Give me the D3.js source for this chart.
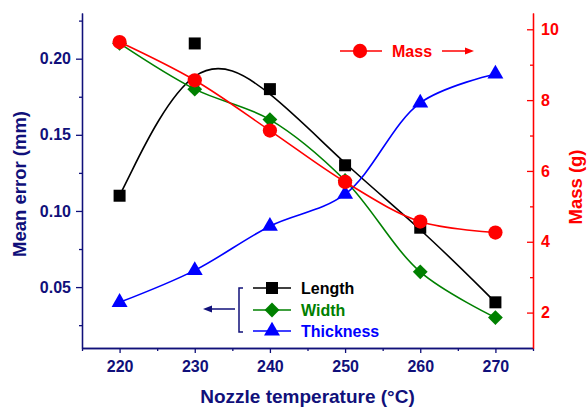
<!DOCTYPE html>
<html>
<head>
<meta charset="utf-8">
<script src="https://cdn.jsdelivr.net/npm/d3@7"></script>
<style>
  body { margin: 0; background: #fff; }
  svg { font-family: "Liberation Sans", Arial, sans-serif; font-weight: bold; }
</style>
</head>
<body>
<svg width="588" height="408"></svg>
<script>
// DATA
const temps = [220, 230, 240, 250, 260, 270];
const lengthErr = [0.11, 0.21, 0.18, 0.13, 0.089, 0.04];
const widthErr = [0.21, 0.18, 0.16, 0.12, 0.06, 0.03];
const thickErr = [0.04, 0.061, 0.09, 0.111, 0.171, 0.19];
const mass = [9.64, 8.56, 7.14, 5.69, 4.57, 4.26];

const xTicks = [220, 230, 240, 250, 260, 270];
const yLTicks = [0.05, 0.10, 0.15, 0.20];
const yRTicks = [2, 4, 6, 8, 10];

const navy = '#10107a';

const svg = d3.select('svg');
const padL = 82, padR = 533, padT = 13, padB = 348;

const xScale = d3.scaleLinear().domain([215, 275]).range([padL, padR]);
const yL = d3.scaleLinear().domain([0.01, 0.23]).range([padB, padT]);
const yR = d3.scaleLinear().domain([1, 10.46]).range([padB, padT]);

// axes
const styleAxis = (g, color) => {
    g.selectAll('path, line').attr('stroke', color).attr('stroke-width', 1.3);
    g.selectAll('text').attr('fill', color).attr('font-size', 16).attr('font-family', null);
};

// bottom
svg.append('g').attr('transform', `translate(0,${padB})`)
    .call(d3.axisBottom(xScale).tickValues([215, 225, 235, 245, 255, 265, 275]).tickSize(3).tickSizeOuter(0).tickFormat(''))
    .call(g => styleAxis(g, navy));
svg.append('g').attr('transform', `translate(0,${padB})`)
    .call(d3.axisBottom(xScale).tickValues(xTicks).tickSize(5).tickPadding(8).tickSizeOuter(0))
    .call(g => styleAxis(g, navy));

// left
svg.append('g').attr('transform', `translate(${padL},0)`)
    .call(d3.axisLeft(yL).tickValues([0.025, 0.075, 0.125, 0.175, 0.225]).tickSize(3).tickSizeOuter(0).tickFormat(''))
    .call(g => styleAxis(g, navy));
svg.append('g').attr('transform', `translate(${padL},0)`)
    .call(d3.axisLeft(yL).tickValues(yLTicks).tickSize(6).tickPadding(5).tickSizeOuter(0).tickFormat(d3.format('.2f')))
    .call(g => styleAxis(g, navy));

// right (ticks inward)
svg.append('g').attr('transform', `translate(${padR},0)`)
    .call(d3.axisRight(yR).tickValues([3, 5, 7, 9]).tickSize(-3).tickSizeOuter(0).tickFormat(''))
    .call(g => styleAxis(g, '#ff0000'));
svg.append('g').attr('transform', `translate(${padR},0)`)
    .call(d3.axisRight(yR).tickValues(yRTicks).tickSize(-6).tickPadding(8).tickSizeOuter(0))
    .call(g => styleAxis(g, '#ff0000'));

// axis titles
svg.append('text').attr('x', (padL + padR) / 2).attr('y', 403)
    .attr('text-anchor', 'middle').attr('font-size', 19).attr('fill', navy)
    .text('Nozzle temperature (°C)');
svg.append('text').attr('transform', 'translate(26,184) rotate(-90)')
    .attr('text-anchor', 'middle').attr('font-size', 18.5).attr('fill', navy)
    .text('Mean error (mm)');
svg.append('text').attr('transform', 'translate(582,187) rotate(-90)')
    .attr('text-anchor', 'middle').attr('font-size', 18.5).attr('fill', '#ff0000')
    .text('Mass (g)');

// markers
const sym = {
    square: d3.symbol().type(d3.symbolSquare).size(144),
    diamond: d3.symbol().type(d3.symbolSquare).size(110),
    triangle: d3.symbol().type(d3.symbolTriangle).size(110),
    circle: d3.symbol().type(d3.symbolCircle).size(160)
};

const series = [
    {vals: lengthErr, y: yL, color: '#000000', curve: d3.curveBasis, shape: 'square', rot: 0},
    {vals: widthErr, y: yL, color: '#008000', curve: d3.curveCatmullRom, shape: 'diamond', rot: 45},
    {vals: thickErr, y: yL, color: '#0000ff', curve: d3.curveCatmullRom, shape: 'triangle', rot: 0},
    {vals: mass, y: yR, color: '#ff0000', curve: d3.curveCatmullRom, shape: 'circle', rot: 0}
];

series.forEach(s => {
    const pts = temps.map((t, i) => [t, s.vals[i]]);
    const line = d3.line().x(d => xScale(d[0])).y(d => s.y(d[1])).curve(s.curve);
    svg.append('path').attr('d', line(pts))
        .attr('fill', 'none').attr('stroke', s.color).attr('stroke-width', 1.6);
    svg.append('g').selectAll('path')
        .data(pts).enter().append('path')
        .attr('d', sym[s.shape]())
        .attr('transform', d => `translate(${xScale(d[0])},${s.y(d[1])}) rotate(${s.rot})`)
        .attr('fill', s.color);
});

// legend (left axis group)
const legItems = [
    {name: 'Length', color: '#000000', shape: 'square', rot: 0, y: 288},
    {name: 'Width', color: '#008000', shape: 'diamond', rot: 45, y: 310},
    {name: 'Thickness', color: '#0000ff', shape: 'triangle', rot: 0, y: 331}
];
const leg = svg.append('g');
legItems.forEach(d => {
    leg.append('line').attr('x1', 253).attr('x2', 291).attr('y1', d.y).attr('y2', d.y)
        .attr('stroke', d.color).attr('stroke-width', 1.6);
    leg.append('path').attr('d', sym[d.shape]())
        .attr('transform', `translate(272,${d.y}) rotate(${d.rot})`).attr('fill', d.color);
    leg.append('text').attr('x', 301).attr('y', d.y + 6).attr('font-size', 16)
        .attr('fill', d.color).text(d.name);
});
// bracket + arrow
leg.append('path').attr('d', 'M243,288 L239,288 L239,332 L243,332')
    .attr('fill', 'none').attr('stroke', navy).attr('stroke-width', 1.5);
leg.append('line').attr('x1', 235).attr('x2', 210).attr('y1', 309).attr('y2', 309)
    .attr('stroke', navy).attr('stroke-width', 1.5);
leg.append('path').attr('d', 'M203,309 L212,305.5 L212,312.5 Z').attr('fill', navy);

// mass legend
const mLeg = svg.append('g');
mLeg.append('line').attr('x1', 340).attr('x2', 382).attr('y1', 51).attr('y2', 51)
    .attr('stroke', '#ff0000').attr('stroke-width', 1.6);
mLeg.append('path').attr('d', sym.circle()).attr('transform', 'translate(360,51)').attr('fill', '#ff0000');
mLeg.append('text').attr('x', 392).attr('y', 57).attr('font-size', 16).attr('fill', '#ff0000').text('Mass');
mLeg.append('line').attr('x1', 442).attr('x2', 466).attr('y1', 51).attr('y2', 51)
    .attr('stroke', '#ff0000').attr('stroke-width', 1.5);
mLeg.append('path').attr('d', 'M474,51 L465,47.5 L465,54.5 Z').attr('fill', '#ff0000');
</script>
</body>
</html>
